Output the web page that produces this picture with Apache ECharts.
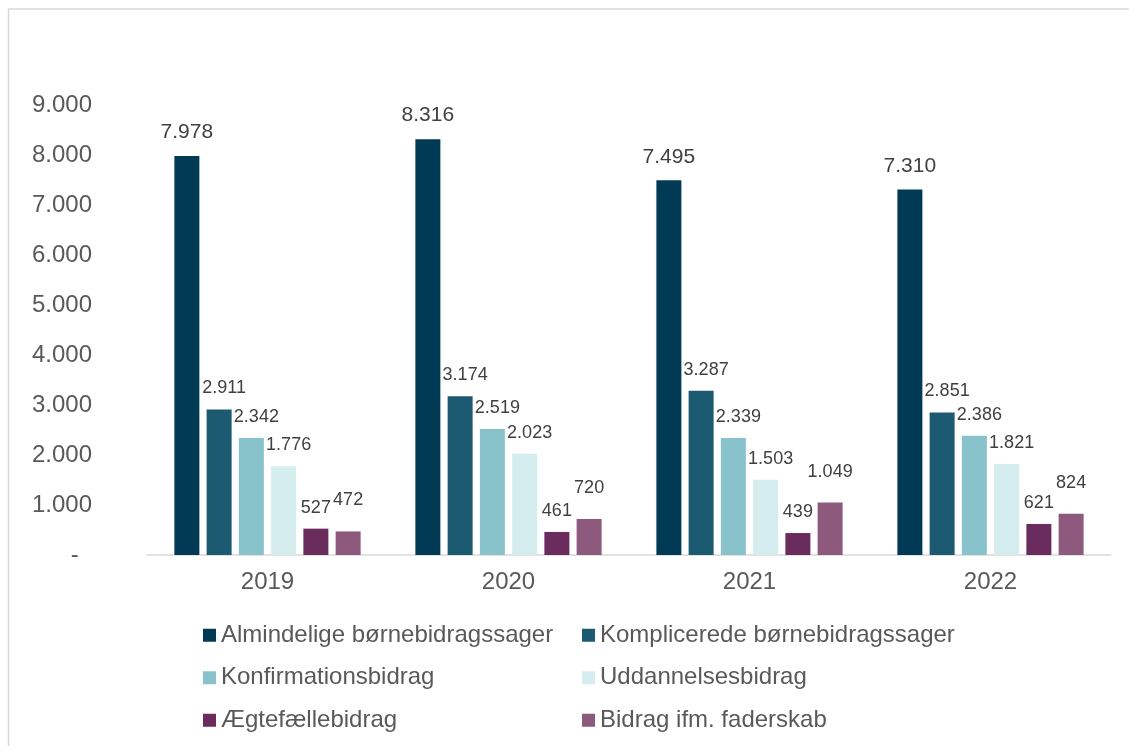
<!DOCTYPE html>
<html>
<head>
<meta charset="utf-8">
<script src="https://cdn.jsdelivr.net/npm/echarts@6/dist/echarts.min.js"></script>
<style>
  html, body { margin: 0; padding: 0; background: #fff; }
  #chart { width: 1129px; height: 746px; }
</style>
</head>
<body>
<div id="chart"></div>
<script>
// data
const years = ['2019', '2020', '2021', '2022'];
const seriesNames = [
  'Almindelige børnebidragssager',
  'Komplicerede børnebidragssager',
  'Konfirmationsbidrag',
  'Uddannelsesbidrag',
  'Ægtefællebidrag',
  'Bidrag ifm. faderskab',
];
const almindelige = [7978, 8316, 7495, 7310];
const komplicerede = [2911, 3174, 3287, 2851];
const konfirmation = [2342, 2519, 2339, 2386];
const uddannelse = [1776, 2023, 1503, 1821];
const aegtefaelle = [527, 461, 439, 621];
const faderskab = [472, 720, 1049, 824];

const colors = ['#003A54', '#1C5A72', '#88C3CB', '#D5EDEE', '#6A2C5D', '#8D5A7E'];
const font = '"Liberation Sans", Arial, sans-serif';

// danish thousands separator
function fmt(v) {
  return String(v).replace(/\B(?=(\d{3})+(?!\d))/g, '.');
}

const chart = echarts.init(document.getElementById('chart'));

const values = [almindelige, komplicerede, konfirmation, uddannelse, aegtefaelle, faderskab];

// label tweaks to mimic the placement in the original
const labelStyle = [
  { fontSize: 21, distance: 13, offset: [0, 0] },
  { fontSize: 18, distance: 12, offset: [5, 0] },
  { fontSize: 18, distance: 12, offset: [5, 0] },
  { fontSize: 18, distance: 12, offset: [5, 0] },
  { fontSize: 18, distance: 12, offset: [0, 0] },
  { fontSize: 18, distance: 22, offset: [0, 0] },
];

const series = values.map((data, i) => ({
  name: seriesNames[i],
  type: 'bar',
  data,
  barWidth: 25,
  barGap: '29%',
  itemStyle: { color: colors[i] },
  label: {
    show: true,
    position: 'top',
    distance: labelStyle[i].distance,
    offset: labelStyle[i].offset,
    fontFamily: font,
    fontSize: labelStyle[i].fontSize,
    color: '#404040',
    formatter: p => fmt(p.value),
  },
}));

chart.setOption({
  animation: false,
  textStyle: { fontFamily: font },
  graphic: [{
    type: 'rect',
    shape: { x: 8.5, y: 9, width: 1300, height: 900 },
    style: { fill: 'none', stroke: '#D9D9D9', lineWidth: 1.5 },
    silent: true,
  }],
  grid: { left: 147, right: 18, top: 105, bottom: 191 },
  xAxis: {
    type: 'category',
    data: years,
    axisTick: { show: false },
    axisLine: { lineStyle: { color: '#D9D9D9', width: 1.5 } },
    axisLabel: { fontFamily: font, fontSize: 24, color: '#595959', margin: 15 },
  },
  yAxis: {
    type: 'value',
    min: 0,
    max: 9000,
    interval: 1000,
    splitLine: { show: false },
    axisLine: { show: false },
    axisTick: { show: false },
    axisLabel: {
      fontFamily: font,
      fontSize: 24,
      color: '#595959',
      margin: 55,
      formatter: v => (v === 0 ? '-  ' : fmt(v)),
    },
  },
  legend: {
    data: seriesNames,
    left: 203,
    top: 614,
    width: 770,
    padding: 0,
    itemGap: 0,
    itemWidth: 13,
    itemHeight: 13,
    icon: 'rect',
    textStyle: {
      fontFamily: font,
      fontSize: 24,
      color: '#595959',
      width: 361,
      lineHeight: 42.5,
    },
  },
  series,
});
</script>
</body>
</html>
